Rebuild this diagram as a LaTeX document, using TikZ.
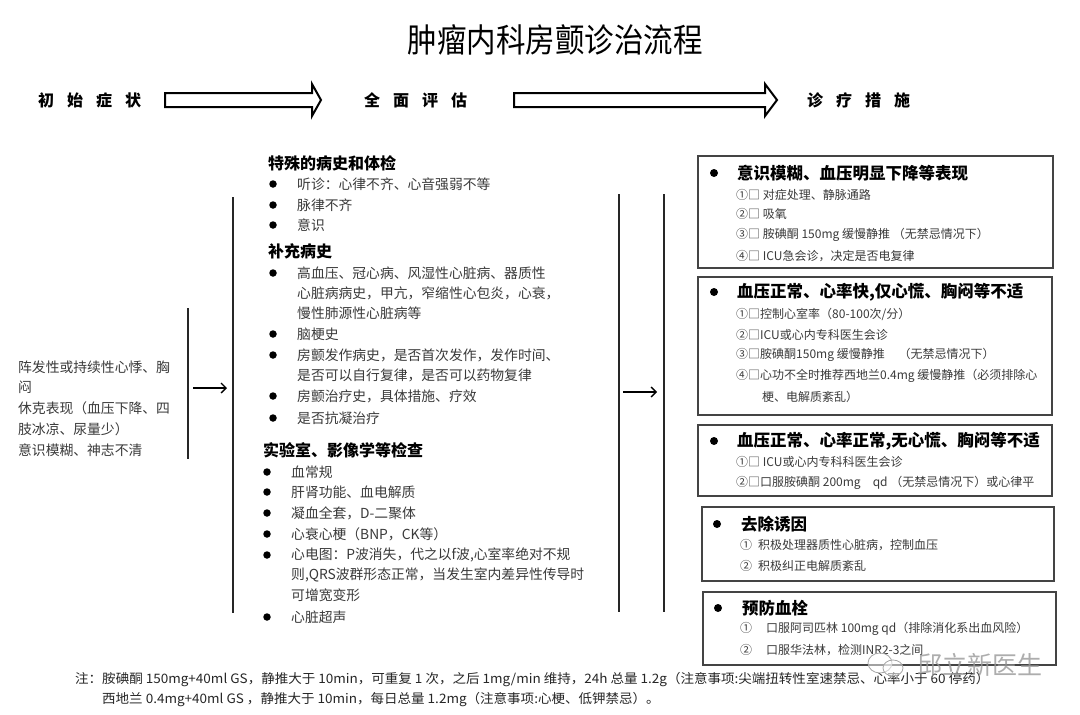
\documentclass[tikz,border=0pt]{standalone}
\usepackage{fontspec}
\newfontfamily\cjk{Noto Sans CJK SC}
\usetikzlibrary{arrows.meta}
\definecolor{txtgray}{HTML}{3A3A3A}
\definecolor{boxgray}{HTML}{444444}
\tikzset{
  txt/.style={anchor=west,inner sep=0pt,text=txtgray,font=\cjk\fontsize{13.8}{16}\selectfont},
  ltxt/.style={anchor=west,inner sep=0pt,text=txtgray,font=\cjk\fontsize{13.8}{16}\selectfont},
  hdr/.style={anchor=west,inner sep=0pt,text=black,font=\cjk\bfseries\fontsize{16}{19}\selectfont},
  bhdr/.style={anchor=west,inner sep=0pt,text=black,font=\cjk\bfseries\fontsize{16.5}{19}\selectfont},
  item/.style={anchor=west,inner sep=0pt,text=txtgray,font=\cjk\fontsize{12}{14}\selectfont},
  bul/.style={circle,fill=black,inner sep=0pt,minimum size=7.5pt},
  bbul/.style={circle,fill=black,inner sep=0pt,minimum size=8pt},
  tbox/.style={draw=boxgray,line width=1.2pt},
  vline/.style={draw=black!85,line width=1.3pt},
  harrow/.style={draw=black,line width=1.3pt,-{Straight Barb[length=5pt,width=10pt,line width=1.3pt]}},
  blockarrow/.style={draw=black,line width=2pt,fill=white,line join=miter},
  steplabel/.style={anchor=west,inner sep=0pt,font=\cjk\bfseries\fontsize{16}{19}\selectfont},
  foot/.style={anchor=west,inner sep=0pt,text=black!85,font=\cjk\fontsize{13}{15}\selectfont}
}
\begin{document}
\begin{tikzpicture}[x=1pt,y=-1pt]
\useasboundingbox[fill=white] (0,0) rectangle (1080,715);

% title
\node[inner sep=0pt,font=\cjk\fontsize{29.5}{32}\selectfont] (title) at (555,40) {\scalebox{1}[1.12]{肿瘤内科房颤诊治流程}};

% step labels
\node[steplabel] (s1) at (38,100) {初\hspace{13pt}始\hspace{13pt}症\hspace{13pt}状};
\node[steplabel] (s2) at (364,100) {全\hspace{13pt}面\hspace{13pt}评\hspace{13pt}估};
\node[steplabel] (s3) at (807,100) {诊\hspace{13pt}疗\hspace{13pt}措\hspace{13pt}施};

% block arrows
\draw[blockarrow] (165,93) -- (312,93) -- (312,84) -- (321,100) -- (312,116) -- (312,107) -- (165,107) -- cycle;
\draw[blockarrow] (514,93) -- (765,93) -- (765,84) -- (777,100) -- (765,116) -- (765,107) -- (514,107) -- cycle;

% left column
\node[ltxt] (l1) at (18,367) {阵发性或持续性心悸、胸};
\node[ltxt] (l2) at (18,387) {闷};
\node[ltxt] (l3) at (18,408) {休克表现（血压下降、四};
\node[ltxt] (l4) at (18,429) {肢冰凉、尿量少）};
\node[ltxt] (l5) at (18,450) {意识模糊、神志不清};

% brackets and arrows
\coordinate (v1t) at (188,308); \coordinate (v1b) at (188,459);
\coordinate (v2t) at (233,197); \coordinate (v2b) at (233,613);
\coordinate (v3t) at (619,194); \coordinate (v3b) at (619,612);
\coordinate (v4t) at (664,194); \coordinate (v4b) at (664,612);
\draw[vline] (v1t) -- (v1b);
\draw[vline] (v2t) -- (v2b);
\draw[vline] (v3t) -- (v3b);
\draw[vline] (v4t) -- (v4b);
\coordinate (a1s) at (193,388); \coordinate (a1e) at (227,388);
\coordinate (a2s) at (623,392); \coordinate (a2e) at (657,392);
\draw[harrow] (a1s) -- (a1e);
\draw[harrow] (a2s) -- (a2e);

% middle column
\node[hdr] (mh1) at (268,163) {特殊的病史和体检};
\node[bul] (mb1) at (273,184) {}; \node[txt] (m1) at (297,184) {听诊：心律不齐、心音强弱不等};
\node[bul] (mb2) at (273,205) {}; \node[txt] (m2) at (297,205) {脉律不齐};
\node[bul] (mb3) at (273,225) {}; \node[txt] (m3) at (297,225) {意识};
\node[hdr] (mh2) at (268,251) {补充病史};
\node[bul] (mb4) at (273,273) {}; \node[txt] (m4) at (297,273) {高血压、冠心病、风湿性心脏病、器质性};
\node[txt] (m5) at (297,293) {心脏病病史，甲亢，窄缩性心包炎，心衰，};
\node[txt] (m6) at (297,313) {慢性肺源性心脏病等};
\node[bul] (mb5) at (273,334) {}; \node[txt] (m7) at (297,334) {脑梗史};
\node[bul] (mb6) at (273,355) {}; \node[txt] (m8) at (297,355) {房颤发作病史，是否首次发作，发作时间、};
\node[txt] (m9) at (297,375) {是否可以自行复律，是否可以药物复律};
\node[bul] (mb7) at (273,396) {}; \node[txt] (m10) at (297,396) {房颤治疗史，具体措施、疗效};
\node[bul] (mb8) at (273,418) {}; \node[txt] (m11) at (297,418) {是否抗凝治疗};
\node[hdr] (mh3) at (263,450) {实验室、影像学等检查};
\node[bul] (mb9) at (267,472) {}; \node[txt] (m12) at (291,472) {血常规};
\node[bul] (mb10) at (267,492) {}; \node[txt] (m13) at (291,492) {肝肾功能、血电解质};
\node[bul] (mb11) at (267,513) {}; \node[txt] (m14) at (291,513) {凝血全套，D-二聚体};
\node[bul] (mb12) at (267,534) {}; \node[txt] (m15) at (291,534) {心衰心梗（BNP，CK等）};
\node[bul] (mb13) at (267,555) {}; \node[txt] (m16) at (291,555) {心电图：P波消失，代之以f波,心室率绝对不规};
\node[txt] (m17) at (291,575) {则,QRS波群形态正常，当发生室内差异性传导时};
\node[txt] (m18) at (291,595) {可增宽变形};
\node[bul] (mb14) at (267,617) {}; \node[txt] (m19) at (291,617) {心脏超声};

% right boxes
\draw[tbox] (698,156) rectangle (1053,268);
\node[bbul] (rb1) at (714,173) {};
\node[bhdr] (r1h) at (737,173) {意识模糊、血压明显下降等表现};
\node[item] (r11) at (736,195) {①□ 对症处理、静脉通路};
\node[item] (r12) at (736,214) {②□ 吸氧};
\node[item] (r13) at (736,235) {③□ 胺碘酮 150mg 缓慢静推 （无禁忌情况下）};
\node[item] (r14) at (736,256) {④□ ICU急会诊，决定是否电复律};

\draw[tbox] (698,277) rectangle (1052,415);
\node[bbul] (rb2) at (714,292) {};
\node[bhdr] (r2h) at (737,292) {血压正常、心率快,仅心慌、胸闷等不适};
\node[item] (r21) at (736,314) {①□控制心室率（80-100次/分）};
\node[item] (r22) at (736,335) {②□ICU或心内专科医生会诊};
\node[item] (r23) at (736,355) {③□胺碘酮150mg 缓慢静推\hspace{14pt}（无禁忌情况下）};
\node[item] (r24) at (736,376) {④□心功不全时推荐西地兰0.4mg 缓慢静推（必须排除心};
\node[item] (r25) at (762,397) {梗、电解质紊乱）};

\draw[tbox] (698,425) rectangle (1052,496);
\node[bbul] (rb3) at (714,441) {};
\node[bhdr] (r3h) at (737,441) {血压正常、心率正常,无心慌、胸闷等不适};
\node[item] (r31) at (736,462) {①□ ICU或心内专科科医生会诊};
\node[item] (r32) at (736,483) {②□口服胺碘酮 200mg\hspace{12pt}qd （无禁忌情况下）或心律平};

\draw[tbox] (702,507) rectangle (1054,581);
\node[bbul] (rb4) at (717,524) {};
\node[bhdr] (r4h) at (741,524) {去除诱因};
\node[item] (r41) at (740,545) {①\hspace{6pt}积极处理器质性心脏病，控制血压};
\node[item] (r42) at (740,566) {②\hspace{6pt}积极纠正电解质紊乱};

\draw[tbox] (703,592) rectangle (1056,665);
\node[bbul] (rb5) at (718,608) {};
\node[bhdr] (r5h) at (742,608) {预防血栓};
\node[item] (r51) at (740,629) {①\hspace{14pt}口服阿司匹林 100mg qd（排除消化系出血风险）};
\node[item] (r52) at (740,650) {②\hspace{14pt}口服华法林，检测INR2-3之间};

% footer
\node[foot] (f1) at (75,680) {\scalebox{1.04}[1]{注：胺碘酮 150mg+40ml GS，静推大于 10min，可重复 1 次，之后 1mg/min 维持，24h 总量 1.2g（注意事项:尖端扭转性室速禁忌、心率小于 60 停药）}};
\node[foot] (f2) at (102,700) {\scalebox{1.04}[1]{西地兰 0.4mg+40ml GS ，静推大于 10min，每日总量 1.2mg（注意事项:心梗、低钾禁忌）。}};

% watermark
\node[inner sep=0pt,text=black!40,opacity=0.8,font=\cjk\fontsize{25}{28}\selectfont] (wm) at (980,665) {邱立新医生};
\draw[black!35,line width=0.8pt,fill=white,fill opacity=0.5] (880,663) ellipse (12pt and 10pt);
\draw[black!35,line width=0.8pt,fill=white,fill opacity=0.5] (893,668) ellipse (10pt and 8pt);
\end{tikzpicture}
\end{document}
